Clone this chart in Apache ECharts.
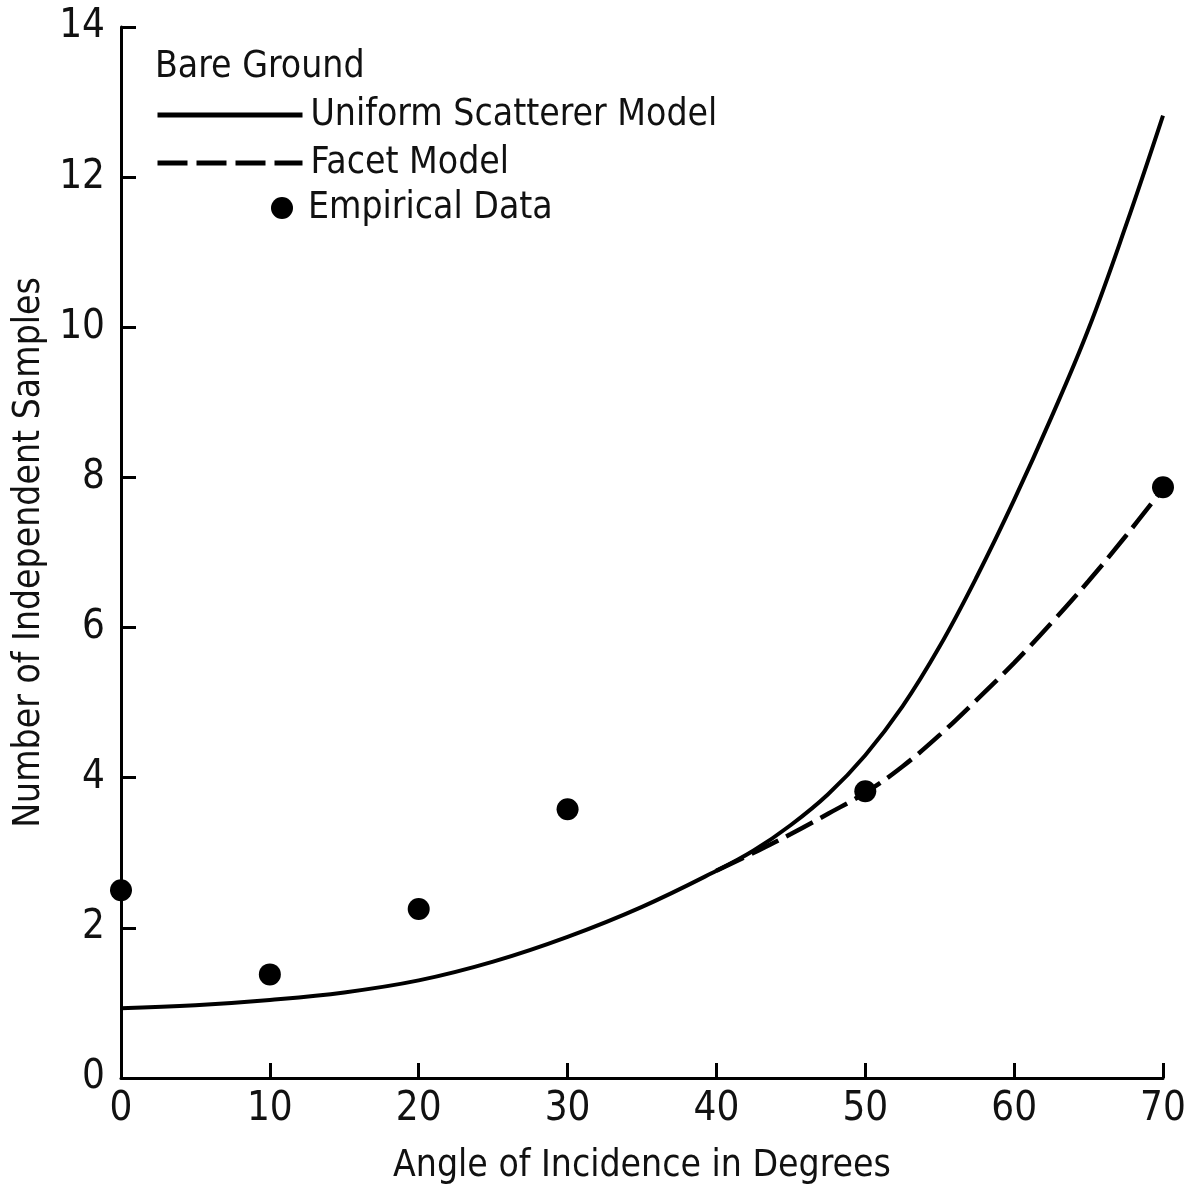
<!DOCTYPE html>
<html>
<head>
<meta charset="utf-8">
<script src="https://cdn.jsdelivr.net/npm/echarts@6/dist/echarts.min.js"></script>
<style>
  html, body { margin: 0; padding: 0; background: #fff; }
  #chart { width: 1191px; height: 1190px; }
</style>
</head>
<body>
<div id="chart"></div>
<script>
// ---- data ----
const uniformAngles = [0, 5, 10, 15, 20, 25, 30, 35, 40, 42.5, 45, 47.5, 50, 52.5, 55, 57.5, 60, 62.5, 65, 67.5, 70];
const uniformValues = [0.93, 0.97, 1.04, 1.14, 1.30, 1.55, 1.88, 2.28, 2.76, 3.03, 3.37, 3.78, 4.30, 4.95, 5.75, 6.68, 7.70, 8.80, 9.98, 11.35, 12.82];

const facetAngles = [40, 42.5, 45, 47.5, 50, 52.5, 55, 57.5, 60, 62.5, 65, 67.5, 70];
const facetValues = [2.76, 3.00, 3.25, 3.52, 3.80, 4.15, 4.57, 5.04, 5.53, 6.06, 6.62, 7.22, 7.85];

const empiricalAngles = [0, 10, 20, 30, 50, 70];
const empiricalValues = [2.50, 1.38, 2.25, 3.58, 3.82, 7.87];

const xTicks = [0, 10, 20, 30, 40, 50, 60, 70];
const yTicks = [0, 2, 4, 6, 8, 10, 12, 14];

const pair = (xs, ys) => xs.map((x, i) => [x, ys[i]]);

const TXT = "'DejaVu Sans Condensed', 'Liberation Sans Narrow', sans-serif";
const NUM = "'Liberation Sans Narrow', 'DejaVu Sans Condensed', sans-serif";
const INK = '#000';

const chart = echarts.init(document.getElementById('chart'), null, { renderer: 'canvas' });

const axisCommon = {
  type: 'value',
  axisLine: { show: true, onZero: false, lineStyle: { color: INK, width: 3 } },
  axisTick: { show: true, inside: true, length: 15, lineStyle: { color: INK, width: 3 } },
  splitLine: { show: false },
  axisLabel: { color: '#111', fontFamily: NUM, fontSize: 40 },
  nameLocation: 'middle',
  nameTextStyle: { color: '#111', fontFamily: TXT, fontSize: 37 }
};

chart.setOption({
  animation: false,
  backgroundColor: '#fff',
  title: {
    text: 'Bare Ground',
    left: 155,
    top: 49,
    padding: 0,
    textStyle: { color: '#111', fontFamily: TXT, fontSize: 37, fontWeight: 'normal' }
  },
  legend: [
    {
      data: ['Uniform Scatterer Model', 'Facet Model'],
      orient: 'vertical',
      left: 155,
      top: 96,
      padding: 0,
      itemGap: 10,
      itemWidth: 145,
      itemHeight: 14,
      selectedMode: false,
      itemStyle: { opacity: 0, color: 'rgba(0,0,0,0)', borderWidth: 0 },
      lineStyle: { width: 5 },
      textStyle: { color: '#111', fontFamily: TXT, fontSize: 37, lineHeight: 38, padding: [0, 0, 0, 3] }
    },
    {
      data: ['Empirical Data'],
      orient: 'vertical',
      left: 271,
      top: 189,
      padding: 0,
      itemWidth: 22,
      itemHeight: 22,
      selectedMode: false,
      itemStyle: { opacity: 1 },
      textStyle: { color: '#111', fontFamily: TXT, fontSize: 37, lineHeight: 38, padding: [0, 0, 0, 10] }
    }
  ],
  grid: { left: 121, right: 28, top: 27, bottom: 110, containLabel: false },
  xAxis: Object.assign({}, axisCommon, {
    min: xTicks[0], max: xTicks[xTicks.length - 1], interval: 10,
    name: 'Angle of Incidence in Degrees',
    nameGap: 70,
    axisLabel: Object.assign({}, axisCommon.axisLabel, { margin: 12 })
  }),
  yAxis: Object.assign({}, axisCommon, {
    min: yTicks[0], max: yTicks[yTicks.length - 1], interval: 2,
    name: 'Number of Independent Samples',
    nameGap: 72,
    axisLabel: Object.assign({}, axisCommon.axisLabel, { margin: 16 })
  }),
  series: [
    {
      name: 'Uniform Scatterer Model',
      type: 'line',
      data: pair(uniformAngles, uniformValues),
      smooth: 0.4,
      symbol: 'none',
      lineStyle: { color: INK, width: 4 },
      itemStyle: { color: INK },
      z: 2
    },
    {
      name: 'Facet Model',
      type: 'line',
      data: pair(facetAngles, facetValues),
      smooth: 0.4,
      symbol: 'none',
      lineStyle: { color: INK, width: 4.5, type: [30, 9] },
      itemStyle: { color: INK },
      z: 3
    },
    {
      name: 'Empirical Data',
      type: 'scatter',
      data: pair(empiricalAngles, empiricalValues),
      symbol: 'circle',
      symbolSize: 22,
      itemStyle: { color: INK, opacity: 1 },
      z: 4
    }
  ]
});
</script>
</body>
</html>
